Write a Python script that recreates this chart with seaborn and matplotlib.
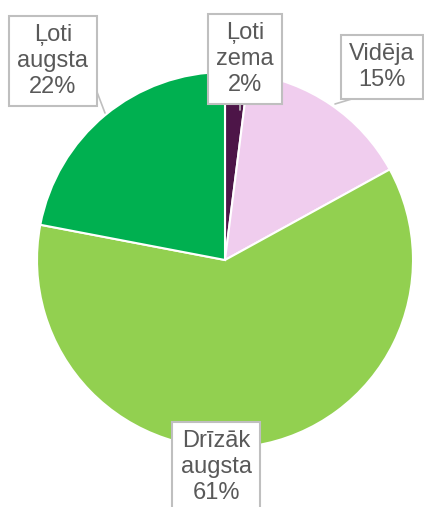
import matplotlib
matplotlib.use('Agg')
import matplotlib.pyplot as plt
import seaborn as sns

# Chart data (clockwise from the top)
categories = ['Ļoti zema', 'Vidēja', 'Drīzāk augsta', 'Ļoti augsta']
shares = [2, 15, 61, 22]
label_texts = ['Ļoti\nzema\n2%', 'Vidēja\n15%', 'Drīzāk\naugsta\n61%', 'Ļoti\naugsta\n22%']
colors = ['#4D1548', '#F0CDEE', '#92D050', '#00B050']

sns.set_theme(style='white')
plt.rcParams['font.family'] = ['Liberation Sans', 'DejaVu Sans']

W, H = 424, 507
fig = plt.figure(figsize=(W / 100, H / 100), dpi=100)
ax = fig.add_axes([0, 0, 1, 1])

cx, cy, r = 225, H - 260, 188
ax.pie(shares, colors=colors, startangle=90, counterclock=False,
       center=(cx, cy), radius=r, frame=True,
       wedgeprops=dict(edgecolor='white', linewidth=1.5))
ax.set_xlim(0, W)
ax.set_ylim(0, H)
ax.set_aspect('equal')
ax.axis('off')

# label box positions (pixel coords, y from top)
label_pos = [(245, 59), (382, 67), (216, 467), (53, 61)]
box = dict(boxstyle='square,pad=0.35', fc='white', ec='#BFBFBF', lw=1.5)
for txt, (x, y) in zip(label_texts, label_pos):
    ax.text(x, H - y, txt, ha='center', va='center', fontsize=17,
            color='#595959', linespacing=1.22, bbox=box, zorder=5)

# leader lines
lc = '#BFBFBF'
ax.plot([97, 105], [H - 92, H - 113], color=lc, lw=1.2, zorder=4)
ax.plot([377, 355, 335], [H - 98, H - 98, H - 104], color=lc, lw=1.2, zorder=4)
ax.plot([240, 240], [H - 104, H - 110], color=lc, lw=1.2, zorder=4)

fig.savefig('out.png', dpi=100, facecolor='white')
